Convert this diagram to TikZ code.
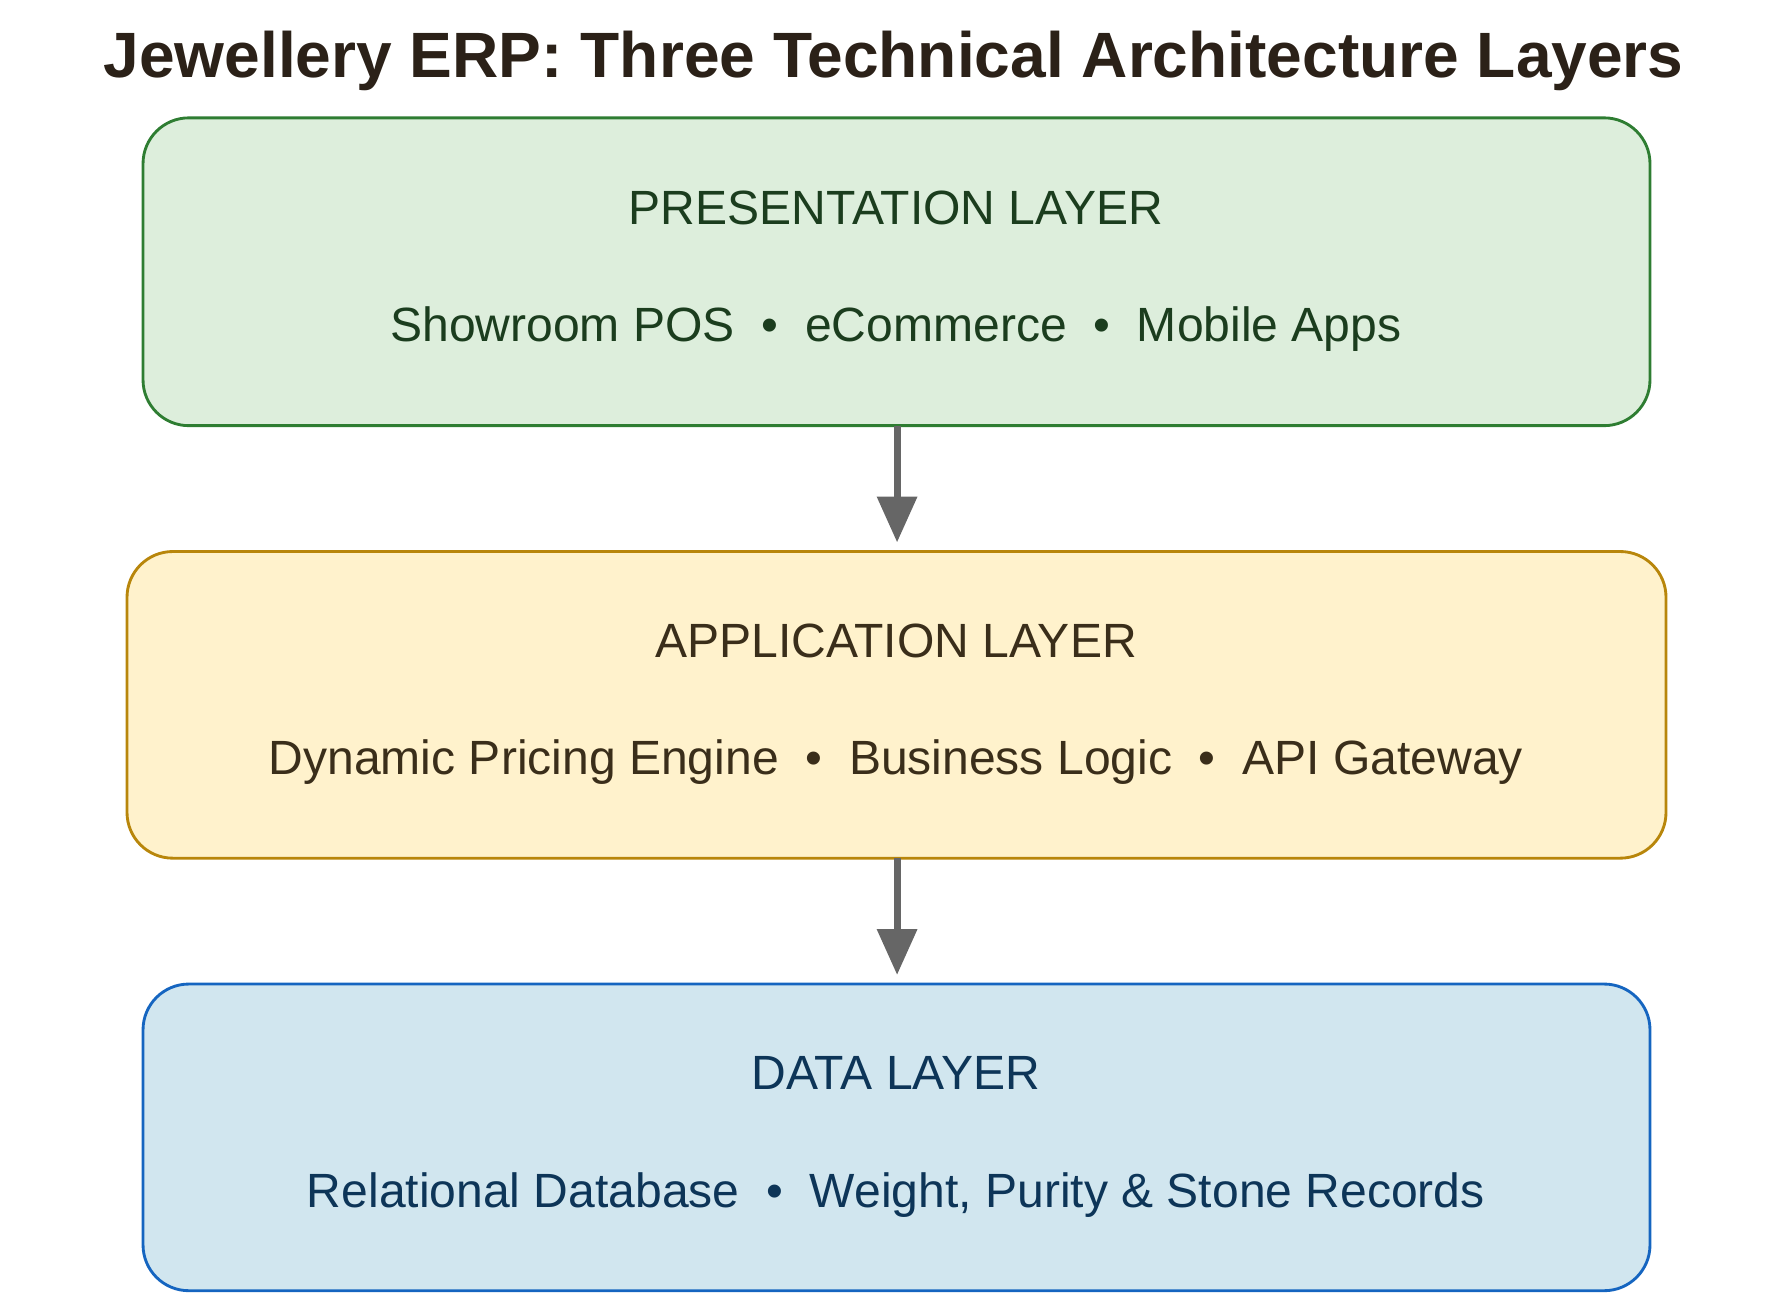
\documentclass[tikz,border=0pt]{standalone}
\usepackage{fontspec}
\setmainfont{Liberation Sans}
\usetikzlibrary{arrows.meta}
\definecolor{gfill}{HTML}{DDEEDC}\definecolor{gdraw}{HTML}{2E7D32}\definecolor{gtext}{HTML}{1B3D1E}
\definecolor{yfill}{HTML}{FFF2CC}\definecolor{ydraw}{HTML}{B8860B}\definecolor{ytext}{HTML}{3A2E1A}
\definecolor{bfill}{HTML}{D1E6EF}\definecolor{bdraw}{HTML}{1565C0}\definecolor{btext}{HTML}{0D3558}
\definecolor{ttext}{HTML}{2B2118}\definecolor{arr}{HTML}{666666}
\tikzset{
 layer/.style={rounded corners=40pt,line width=2.5pt},
 lt/.style={font=\fontsize{42}{50}\selectfont,anchor=center},
 con/.style={line width=6pt,draw=arr,-{Triangle[length=40pt,width=34pt]}}
}
\begin{document}
\begin{tikzpicture}[x=1pt,y=-1pt]
\useasboundingbox (0,0) rectangle (1560,1135);
\node[font=\fontsize{56}{64}\selectfont\bfseries,text=ttext] (title) at (781,53) {Jewellery ERP: Three Technical Architecture Layers};
\draw[layer,fill=gfill,draw=gdraw] (125,103) rectangle (1442,372);
\draw[layer,fill=yfill,draw=ydraw] (111,482) rectangle (1456,750);
\draw[layer,fill=bfill,draw=bdraw] (125,860) rectangle (1442,1128);
\coordinate (p) at (784,372); \coordinate (a1) at (784,482);
\coordinate (a2) at (784,750); \coordinate (d) at (784,860);
\node[lt,text=gtext] (pt) at (783,182) {PRESENTATION LAYER};
\node[lt,text=gtext] (pi) at (783,288) {Showroom POS \ • \ eCommerce \ • \ Mobile Apps};
\node[lt,text=ytext] (at) at (783,560) {APPLICATION LAYER};
\node[lt,text=ytext] (ai) at (783,666) {Dynamic Pricing Engine \ • \ Business Logic \ • \ API Gateway};
\node[lt,text=btext] (dt) at (783,938) {DATA LAYER};
\node[lt,text=btext] (di) at (783,1044) {Relational Database \ • \ Weight, Purity \& Stone Records};
\draw[con] (p) -- ([yshift=8pt]a1);
\draw[con] (a2) -- ([yshift=8pt]d);
\end{tikzpicture}
\end{document}
